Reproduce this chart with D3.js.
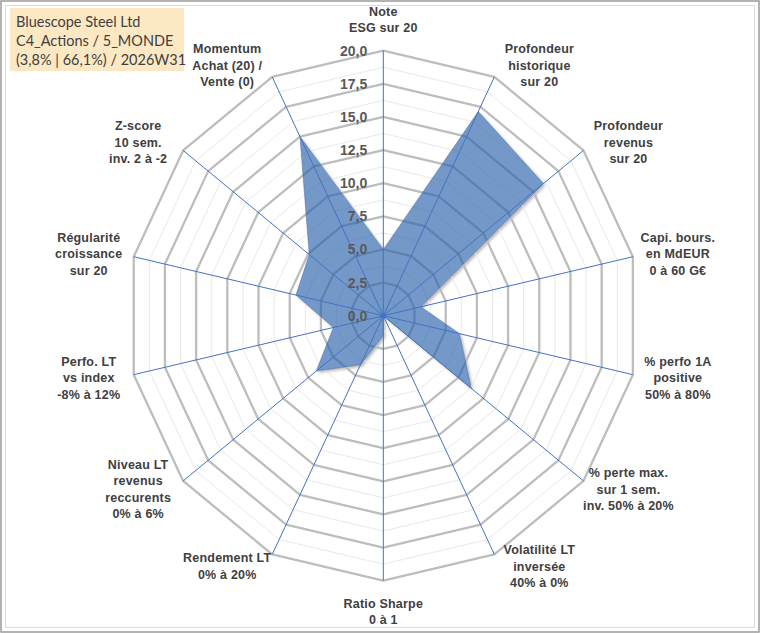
<!DOCTYPE html>
<html>
<head>
<meta charset="utf-8">
<script src="https://cdn.jsdelivr.net/npm/d3@7/dist/d3.min.js"></script>
<style>
  body { margin: 0; background: #fff; }
  svg { display: block; }
</style>
</head>
<body>
<div id="chart"></div>
<script>
// Axis labels (one entry per spoke, clockwise from top), split in lines
const categories = [
    ["Note", "ESG sur 20"],
    ["Profondeur", "historique", "sur 20"],
    ["Profondeur", "revenus", "sur 20"],
    ["Capi. bours.", "en MdEUR", "0 à 60 G€"],
    ["% perfo 1A", "positive", "50% à 80%"],
    ["% perte max.", "sur 1 sem.", "inv. 50% à 20%"],
    ["Volatilité LT", "inversée", "40% à 0%"],
    ["Ratio Sharpe", "0 à 1"],
    ["Rendement LT", "0% à 20%"],
    ["Niveau LT", "revenus", "reccurents", "0% à 6%"],
    ["Perfo. LT", "vs index", "-8% à 12%"],
    ["Régularité", "croissance", "sur 20"],
    ["Z-score", "10 sem.", "inv. 2 à -2"],
    ["Momentum", "Achat (20) /", "Vente (0)"]
];

// Scores on 20, same order as categories
const values = [5.0, 17.1, 16.0, 3.0, 6.1, 8.8, 0.0, 1.5, 4.1, 6.7, 4.0, 7.0, 7.4, 15.0];

const majorTicks = [0, 2.5, 5, 7.5, 10, 12.5, 15, 17.5, 20];
const minorTicks = [1.25, 3.75, 6.25, 8.75, 11.25, 13.75, 16.25, 18.75];
const tickLabels = ["0,0", "2,5", "5,0", "7,5", "10,0", "12,5", "15,0", "17,5", "20,0"];

const titleLines = ["Bluescope Steel Ltd", "C4_Actions / 5_MONDE", "(3,8% | 66,1%) / 2026W31"];

const width = 760, height = 633;
const cx = 383.3, cy = 315.7;
const radius = 265;
const xStretch = 0.966;   // the plot is slightly narrower than tall

const svg = d3.select("#chart").append("svg")
    .attr("width", width)
    .attr("height", height);

// frame
svg.append("rect")
    .attr("x", 1).attr("y", 1).attr("width", width - 2).attr("height", height - 2)
    .attr("fill", "#fff").attr("stroke", "#9a9a9a").attr("stroke-width", 1.5);
svg.append("rect")
    .attr("x", 5.5).attr("y", 5.5).attr("width", width - 11).attr("height", height - 11)
    .attr("fill", "none").attr("stroke", "#dcdcdc").attr("stroke-width", 1);

const defs = svg.append("defs");
const blur = defs.append("filter").attr("id", "blur")
    .attr("x", "-10%").attr("y", "-10%").attr("width", "130%").attr("height", "130%");
blur.append("feGaussianBlur").attr("stdDeviation", 1.8);

const r = d3.scaleLinear().domain([0, 20]).range([0, radius]);
const angle = d3.scalePoint()
    .domain(d3.range(categories.length))
    .range([0, 2 * Math.PI * (categories.length - 1) / categories.length]);

function px(i, v) { return cx + r(v) * Math.sin(angle(i)) * xStretch; }
function py(i, v) { return cy - r(v) * Math.cos(angle(i)); }

function ring(v) {
    return d3.range(categories.length).map(i => [px(i, v), py(i, v)]);
}

const line = d3.line().curve(d3.curveLinearClosed);
const seriesPath = line(values.map((v, i) => [px(i, v), py(i, v)]));
const g = svg.append("g");

// drop shadow, then covered inside so it only shows at the edges
g.append("path")
    .attr("d", seriesPath)
    .attr("transform", "translate(2,2)")
    .attr("fill", "rgba(0,0,0,0.28)")
    .attr("filter", "url(#blur)");
g.append("path")
    .attr("d", seriesPath)
    .attr("fill", "#fff");

// minor grid
g.selectAll(".minor")
    .data(minorTicks)
    .enter()
    .append("path")
    .attr("class", "minor")
    .attr("d", d => line(ring(d)))
    .attr("fill", "none")
    .attr("stroke", "#e9e9e9")
    .attr("stroke-width", 1);

// major grid
g.selectAll(".major")
    .data(majorTicks.filter(t => t > 0))
    .enter()
    .append("path")
    .attr("class", "major")
    .attr("d", d => line(ring(d)))
    .attr("fill", "none")
    .attr("stroke", "#bdbdbd")
    .attr("stroke-width", 2.3)
    .attr("stroke-linejoin", "round");

// series
g.append("path")
    .attr("d", seriesPath)
    .attr("fill", "rgba(44,98,170,0.66)")
    .attr("stroke", "rgba(60,100,165,0.45)")
    .attr("stroke-width", 1);

// spokes
g.selectAll(".spoke")
    .data(d3.range(categories.length))
    .enter()
    .append("line")
    .attr("class", "spoke")
    .attr("x1", cx).attr("y1", cy)
    .attr("x2", i => px(i, 20))
    .attr("y2", i => py(i, 20))
    .attr("stroke", "#4472c4")
    .attr("stroke-width", 1);

g.append("circle")
    .attr("cx", cx).attr("cy", cy).attr("r", 2.5)
    .attr("fill", "#4472c4");

// value labels along the top spoke
g.selectAll(".tick")
    .data(majorTicks)
    .enter()
    .append("text")
    .attr("class", "tick")
    .attr("x", cx - 16)
    .attr("y", d => cy - r(d) + 5)
    .attr("text-anchor", "end")
    .attr("font-family", "'Liberation Sans', Arial, sans-serif")
    .attr("font-weight", "bold")
    .attr("font-size", "14px")
    .attr("fill", "#595959")
    .text((d, i) => tickLabels[i]);

// category labels
const lineH = 16.5;
categories.forEach((lines, i) => {
    const s = Math.sin(angle(i)), c = Math.cos(angle(i));
    let x, y;
    if (Math.abs(s) < 0.01) {
        x = cx;
        y = cy - Math.sign(c) * (radius + 31);
    } else {
        x = px(i, 20) + Math.sign(s) * 45;
        y = cy - (radius + 13) * c;
    }
    const t = g.append("text")
        .attr("text-anchor", "middle")
        .attr("font-family", "'Liberation Sans', Arial, sans-serif")
        .attr("font-weight", "bold")
        .attr("font-size", "12.5px")
        .attr("letter-spacing", "0.2px")
        .attr("fill", "#404040");
    lines.forEach((l, k) => {
        t.append("tspan")
            .attr("x", x)
            .attr("y", y - (lines.length - 1) * lineH / 2 + k * lineH + 4.5)
            .text(l);
    });
});

// title box
svg.append("rect")
    .attr("x", 10).attr("y", 8).attr("width", 174).attr("height", 63)
    .attr("fill", "#fde8c4");
svg.append("text")
    .attr("font-family", "Lato, 'Open Sans', sans-serif")
    .attr("font-size", "14.5px")
    .attr("fill", "#404040")
    .selectAll("tspan")
    .data(titleLines)
    .enter()
    .append("tspan")
    .attr("x", 16)
    .attr("y", (d, i) => 27 + i * 19)
    .text(d => d);
</script>
</body>
</html>
